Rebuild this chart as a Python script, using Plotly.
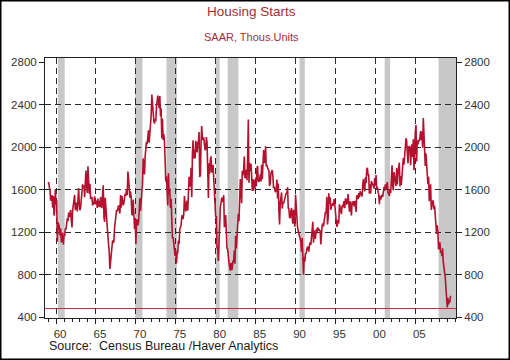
import pandas as pd
import plotly.graph_objects as go

# ---------------- data ----------------
START_MONTH = "1959-01-01"

starts_1959_1964 = [
    1657, 1667, 1620, 1590, 1498, 1503, 1547, 1430, 1540, 1355, 1416, 1601,
    1460, 1503, 1109, 1289, 1271, 1247, 1168, 1234, 1102, 1133, 1196, 1082,
    1171, 1161, 1235, 1224, 1302, 1328, 1302, 1384, 1341, 1377, 1408, 1308,
    1244, 1406, 1444, 1513, 1549, 1406, 1452, 1477, 1393, 1552, 1613, 1464,
    1404, 1434, 1491, 1623, 1648, 1629, 1636, 1528, 1611, 1780, 1644, 1567,
    1820, 1633, 1560, 1653, 1513, 1520, 1530, 1450, 1467, 1474, 1537, 1460,
]
starts_1965_1970 = [
    1485, 1495, 1427, 1515, 1440, 1494, 1435, 1530, 1437, 1433, 1560, 1640,
    1340, 1296, 1522, 1390, 1279, 1250, 1164, 1097, 1010, 852, 930, 990,
    1048, 1121, 1098, 1110, 1237, 1285, 1313, 1406, 1396, 1443, 1451, 1404,
    1374, 1548, 1430, 1540, 1474, 1453, 1475, 1505, 1561, 1541, 1604, 1548,
    1769, 1705, 1561, 1524, 1583, 1528, 1368, 1358, 1507, 1381, 1229, 1327,
    1085, 1305, 1319, 1264, 1290, 1385, 1517, 1399, 1534, 1580, 1647, 1893,
]
starts_1971_1976 = [
    1828, 1741, 1910, 1986, 2049, 2026, 2083, 2158, 2041, 2128, 2182, 2295,
    2494, 2390, 2334, 2249, 2221, 2254, 2252, 2382, 2481, 2485, 2421, 2366,
    2481, 2289, 2365, 2084, 2266, 2067, 2123, 2051, 1874, 1677, 1724, 1526,
    1451, 1752, 1555, 1607, 1426, 1513, 1316, 1142, 1150, 1070, 1026, 975,
    1032, 904, 993, 1005, 1121, 1087, 1226, 1260, 1264, 1344, 1360, 1321,
    1367, 1538, 1421, 1395, 1459, 1495, 1401, 1550, 1720, 1629, 1641, 1804,
]
starts_1977_1982 = [
    1527, 1943, 2063, 1892, 1971, 1893, 2058, 2020, 1949, 2042, 2042, 2142,
    1718, 1738, 2032, 2197, 2075, 2070, 2092, 1996, 1970, 1981, 2094, 2044,
    1630, 1520, 1847, 1748, 1876, 1913, 1760, 1778, 1832, 1681, 1524, 1498,
    1341, 1350, 1047, 1051, 927, 1196, 1269, 1436, 1471, 1523, 1510, 1482,
    1547, 1246, 1306, 1360, 1140, 1045, 1041, 940, 911, 873, 837, 910,
    843, 866, 931, 917, 1025, 902, 1166, 1046, 1144, 1173, 1372, 1303,
]
starts_1983_1988 = [
    1586, 1699, 1606, 1472, 1776, 1733, 1785, 1910, 1710, 1715, 1785, 1688,
    1897, 2260, 1663, 1851, 1774, 1843, 1732, 1586, 1698, 1590, 1689, 1612,
    1711, 1632, 1800, 1821, 1680, 1676, 1684, 1743, 1676, 1834, 1698, 1942,
    1972, 1848, 1876, 2008, 1820, 1832, 1805, 1790, 1774, 1634, 1657, 1751,
    1774, 1784, 1726, 1614, 1628, 1594, 1575, 1605, 1695, 1515, 1656, 1400,
    1271, 1473, 1532, 1573, 1421, 1478, 1467, 1493, 1492, 1522, 1569, 1563,
]
starts_1989_1994 = [
    1621, 1425, 1422, 1339, 1331, 1397, 1427, 1332, 1279, 1410, 1351, 1251,
    1551, 1437, 1289, 1248, 1212, 1177, 1171, 1115, 1110, 1014, 1145, 969,
    798, 965, 921, 1001, 996, 1036, 1063, 1049, 1015, 1079, 1103, 1079,
    1176, 1250, 1297, 1099, 1214, 1145, 1139, 1226, 1186, 1244, 1214, 1227,
    1210, 1210, 1083, 1258, 1260, 1280, 1254, 1300, 1343, 1392, 1376, 1533,
    1272, 1337, 1564, 1465, 1526, 1409, 1439, 1450, 1474, 1450, 1511, 1455,
]
starts_1995_2000 = [
    1407, 1316, 1249, 1267, 1314, 1281, 1461, 1416, 1369, 1369, 1452, 1431,
    1467, 1491, 1424, 1516, 1504, 1467, 1472, 1557, 1475, 1392, 1489, 1370,
    1355, 1486, 1457, 1492, 1442, 1494, 1437, 1390, 1546, 1520, 1510, 1566,
    1525, 1584, 1567, 1540, 1536, 1641, 1698, 1614, 1582, 1715, 1660, 1792,
    1804, 1738, 1737, 1561, 1649, 1562, 1679, 1660, 1648, 1635, 1608, 1708,
    1636, 1737, 1604, 1626, 1575, 1559, 1463, 1541, 1507, 1549, 1551, 1532,
]
starts_2001_2009 = [
    1600, 1625, 1590, 1649, 1605, 1636, 1670, 1567, 1562, 1540, 1602, 1568,
    1698, 1829, 1642, 1592, 1764, 1717, 1655, 1633, 1804, 1648, 1753, 1788,
    1853, 1629, 1726, 1643, 1751, 1867, 1897, 1833, 1939, 1967, 2083, 2057,
    1911, 1846, 1998, 2003, 1981, 1828, 2002, 2024, 1905, 2072, 1782, 2042,
    2144, 2207, 1864, 2061, 2025, 2068, 2054, 2095, 2151, 2065, 2147, 1994,
    2273, 2119, 1969, 1821, 1942, 1802, 1737, 1650, 1720, 1491, 1570, 1649,
    1409, 1480, 1495, 1490, 1415, 1448, 1354, 1330, 1183, 1264, 1197, 1037,
    1084, 1103, 1005, 1013, 973, 1046, 923, 844, 820, 777, 652, 560,
    490, 580, 520, 560, 540, 600,
]

recession_start = ["1960-04-01", "1969-12-01", "1973-11-01", "1980-01-01",
                   "1981-07-01", "1990-07-01", "2001-03-01", "2007-12-01"]
recession_end = ["1961-02-01", "1970-11-01", "1975-03-01", "1980-07-01",
                 "1982-11-01", "1991-03-01", "2001-11-01", "2010-02-05"]

x_tick_years = [1960, 1965, 1970, 1975, 1980, 1985, 1990, 1995, 2000, 2005]
x_tick_labels = ["60", "65", "70", "75", "80", "85", "90", "95", "00", "05"]
y_ticks = [400, 800, 1200, 1600, 2000, 2400, 2800]
y_grid = [800, 1200, 1600, 2000, 2400]
floor_level = 480

title = "Housing Starts"
subtitle = "SAAR, Thous.Units"
source = "Source:  Census Bureau /Haver Analytics"

# ---------------- build ----------------
values = (starts_1959_1964 + starts_1965_1970 + starts_1971_1976 + starts_1977_1982
          + starts_1983_1988 + starts_1989_1994 + starts_1995_2000 + starts_2001_2009)
dates = pd.date_range(START_MONTH, periods=len(values), freq="MS")
x_tick_vals = [f"{y}-01-01" for y in x_tick_years]

W, H = 510, 360
L, R, T, B = 45, 54, 58, 42
pw, ph = W - L - R, H - T - B


def px_x(p):
    return (p - L) / pw


def px_y(p):
    return (H - B - p) / ph


RED = "#b3112e"
TXT_RED = "#a32d38"
FONT = "Liberation Sans, Arial, sans-serif"

fig = go.Figure()

fig.add_trace(go.Scatter(x=dates, y=values, mode="lines",
                         line=dict(color=RED, width=1.6),
                         showlegend=False, hoverinfo="x+y"))
# carriers for right axis and grid axis
fig.add_trace(go.Scatter(x=dates[:1], y=values[:1], mode="lines", yaxis="y2",
                         showlegend=False, hoverinfo="skip"))
fig.add_trace(go.Scatter(x=dates[:1], y=values[:1], mode="lines", yaxis="y3",
                         showlegend=False, hoverinfo="skip"))

yr = [391, 2838]
xr = ["1958-08-15", "2010-02-05"]
tick_font = dict(family=FONT, size=11.5, color="#333333")

fig.update_layout(
    width=W, height=H,
    margin=dict(l=L, r=R, t=T, b=B, pad=0),
    paper_bgcolor="white", plot_bgcolor="white",
    showlegend=False,
    xaxis=dict(
        type="date", range=xr,
        tickmode="array", tickvals=x_tick_vals, ticktext=x_tick_labels,
        ticks="outside", ticklen=5, tickcolor="#222", tickwidth=1,
        ticklabelshift=4,
        tickfont=tick_font,
        showgrid=True, gridcolor="#2a2a2a", gridwidth=1.2, griddash="6px,4px",
        minor=dict(dtick="M12", tick0="1959-01-01", ticks="outside", ticklen=3,
                   tickcolor="#222", showgrid=False),
        showline=True, linecolor="#222", linewidth=1, mirror=True,
        zeroline=False,
    ),
    yaxis=dict(
        range=yr, tickvals=y_ticks, ticks="outside", ticklen=5, tickcolor="#222",
        tickfont=tick_font, showgrid=False, zeroline=False,
        showline=True, linecolor="#222", linewidth=1,
    ),
    yaxis2=dict(
        range=yr, tickvals=y_ticks, overlaying="y", side="right",
        ticks="outside", ticklen=5, tickcolor="#222",
        tickfont=tick_font, showgrid=False, zeroline=False,
        showline=True, linecolor="#222", linewidth=1,
    ),
    yaxis3=dict(
        range=yr, tickvals=y_grid, overlaying="y", showticklabels=False,
        ticks="", showgrid=True, gridcolor="#2a2a2a", gridwidth=1.2,
        griddash="6px,4px", zeroline=False, showline=False,
    ),
    annotations=[
        dict(text=title, x=px_x(251), y=px_y(12),
             xref="paper", yref="paper", showarrow=False, xanchor="center",
             yanchor="middle", font=dict(family=FONT, size=13.5, color=TXT_RED)),
        dict(text=subtitle, x=px_x(251), y=px_y(37),
             xref="paper", yref="paper", showarrow=False, xanchor="center",
             yanchor="middle", font=dict(family=FONT, size=11, color=TXT_RED)),
        dict(text=source, x=px_x(47), y=px_y(346),
             xref="paper", yref="paper", showarrow=False, xanchor="left",
             yanchor="middle", font=dict(family=FONT, size=12.5, color="#1a1a1a")),
    ],
)

for s, e in zip(recession_start, recession_end):
    fig.add_vrect(x0=s, x1=e, fillcolor="#c8c8c8", opacity=1, line_width=0,
                  layer="below")

fig.add_hline(y=floor_level, line=dict(color="#c8283e", width=1), layer="below")

fig.add_shape(type="rect", xref="paper", yref="paper",
              x0=px_x(0.75), x1=px_x(509.25), y0=px_y(359.25), y1=px_y(0.75),
              line=dict(color="black", width=1.5), fillcolor="rgba(0,0,0,0)",
              layer="above")

fig.write_html("out.html",
               config={"displayModeBar": False},
               post_script="document.body.style.margin='0';")
